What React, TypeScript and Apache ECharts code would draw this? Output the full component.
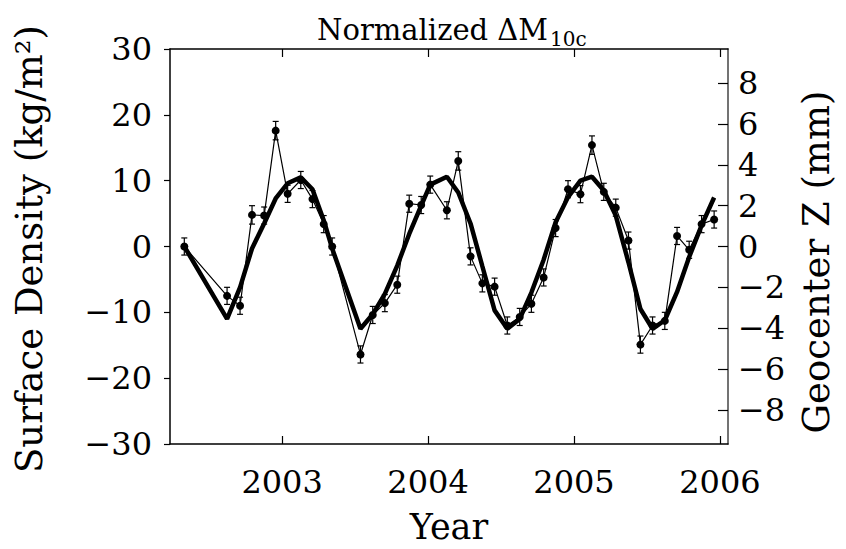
import React, { useEffect, useRef } from "react";
import * as echarts from "echarts";

// Decimal-year sample times (monthly solutions)
const times = [
  2002.33, 2002.623, 2002.712, 2002.794, 2002.877, 2002.956, 2003.038, 2003.128,
  2003.208, 2003.285, 2003.343, 2003.537, 2003.621, 2003.704, 2003.789, 2003.871,
  2003.953, 2004.015, 2004.129, 2004.207, 2004.291, 2004.372, 2004.456, 2004.543,
  2004.628, 2004.708, 2004.792, 2004.874, 2004.959, 2005.044, 2005.123, 2005.204,
  2005.286, 2005.373, 2005.455, 2005.538, 2005.622, 2005.706, 2005.789, 2005.874,
  2005.96,
];

// Normalized ΔM10c surface density (kg/m²), thin line with dots
const observed = [
  0, -7.5, -9.0, 4.8, 4.7, 17.6, 8.0, 10.1, 7.2, 3.4, 0.0, -16.4, -10.4, -8.6,
  -5.8, 6.5, 6.3, 9.4, 5.5, 13.0, -1.5, -5.6, -6.1, -12.0, -10.7, -8.7, -4.7, 2.8,
  8.7, 7.95, 15.4, 8.3, 5.9, 0.9, -14.9, -12.0, -11.3, 1.6, -0.5, 3.4, 4.1,
];

// One-sigma error bar half-lengths (kg/m²)
const errors = [
  1.3, 1.3, 1.3, 1.4, 1.3, 1.4, 1.3, 1.3, 1.3, 1.3, 1.3, 1.3, 1.3, 1.3, 1.3, 1.3,
  1.3, 1.3, 1.3, 1.4, 1.3, 1.3, 1.3, 1.3, 1.3, 1.3, 1.3, 1.3, 1.3, 1.3, 1.4, 1.3,
  1.3, 1.3, 1.3, 1.3, 1.3, 1.3, 1.3, 1.3, 1.3,
];

// Geocenter Z model expressed on the surface-density scale (thick line)
const model = [
  0, -11.0, -6.2, -0.3, 3.5, 7.3, 9.6, 10.5, 8.7, 4.0, -0.3, -12.5, -10.3, -7.2,
  -2.9, 1.9, 6.2, 9.4, 10.6, 8.2, 3.5, -3.0, -9.7, -12.5, -11.0, -7.0, -2.0, 3.7,
  7.5, 10.0, 10.6, 8.5, 4.7, -2.4, -9.5, -12.5, -11.2, -6.9, -1.6, 3.2, 7.45,
];

const yearTicks = [2003, 2004, 2005, 2006];
const geocenterTicks = [-8, -6, -4, -2, 0, 2, 4, 6, 8];

const FONT = "DejaVu Serif";
const fmtMinus = (v: number) => String(Math.round(v)).replace("-", "\u2212");

export default function App() {
  const ref = useRef<HTMLDivElement>(null);
  useEffect(() => {
    if (!ref.current) return;
    const chart = echarts.init(ref.current, undefined, { renderer: "svg" });
    const xMin = 2002.232;
    const xMax = 2006.055;
    const option: any = {
      animation: false,
      backgroundColor: "#fff",
      grid: { left: 170, right: 118, top: 49, bottom: 104 },
      graphic: [
        {
          type: "text",
          x: 548,
          y: 44,
          style: {
            text: "Normalized \u0394M",
            font: `29px '${FONT}'`,
            fill: "#000",
            textAlign: "right",
            textVerticalAlign: "bottom",
          },
        },
        {
          type: "text",
          x: 550,
          y: 49,
          style: {
            text: "10c",
            font: `20px '${FONT}'`,
            fill: "#000",
            textAlign: "left",
            textVerticalAlign: "bottom",
          },
        },
        {
          type: "text",
          x: 29,
          y: 249,
          rotation: Math.PI / 2,
          style: {
            text: "Surface Density (kg/m\u00b2)",
            font: `37px '${FONT}'`,
            fill: "#000",
            textAlign: "center",
            textVerticalAlign: "middle",
          },
        },
        {
          type: "text",
          x: 816,
          y: 262,
          rotation: Math.PI / 2,
          style: {
            text: "Geocenter Z (mm)",
            font: `37px '${FONT}'`,
            fill: "#000",
            textAlign: "center",
            textVerticalAlign: "middle",
          },
        },
      ],
      xAxis: [
        {
          type: "value",
          position: "bottom",
          min: xMin,
          max: xMax,
          axisLine: { show: true, onZero: false, lineStyle: { color: "#000", width: 1.5 } },
          axisTick: { show: true, inside: true, length: 8, customValues: yearTicks, lineStyle: { color: "#000", width: 1.2 } },
          axisLabel: {
            customValues: yearTicks,
            formatter: (v: number) => String(Math.round(v)),
            fontFamily: FONT,
            fontSize: 32,
            color: "#000",
            margin: 22,
          },
          splitLine: { show: false },
          name: "Year",
          nameLocation: "middle",
          nameGap: 65,
          nameTextStyle: { fontFamily: FONT, fontSize: 35, color: "#000" },
        },
        {
          type: "value",
          position: "top",
          min: xMin,
          max: xMax,
          axisLine: { show: true, onZero: false, lineStyle: { color: "#000", width: 1.5 } },
          axisTick: { show: true, inside: true, length: 8, customValues: yearTicks, lineStyle: { color: "#000", width: 1.2 } },
          axisLabel: { show: false },
          splitLine: { show: false },
        },
      ],
      yAxis: [
        {
          type: "value",
          position: "left",
          min: -30,
          max: 30,
          interval: 10,
          axisLine: { show: true, onZero: false, lineStyle: { color: "#000", width: 1.5 } },
          axisTick: { show: true, inside: false, length: 6, lineStyle: { color: "#000", width: 1.2 } },
          axisLabel: { formatter: fmtMinus, fontFamily: FONT, fontSize: 32, color: "#000", margin: 18 },
          splitLine: { show: false },
        },
        {
          type: "value",
          position: "right",
          min: -9.677,
          max: 9.677,
          axisLine: { show: true, onZero: false, lineStyle: { color: "#444", width: 1.5 } },
          axisTick: { show: true, inside: true, length: 10, customValues: geocenterTicks, lineStyle: { color: "#000", width: 1.2 } },
          axisLabel: {
            customValues: geocenterTicks,
            formatter: fmtMinus,
            fontFamily: FONT,
            fontSize: 32,
            color: "#000",
            margin: 10,
          },
          splitLine: { show: false },
        },
      ],
      series: [
        {
          name: "Model",
          type: "line",
          xAxisIndex: 0,
          yAxisIndex: 0,
          data: times.map((t, i) => [t, model[i]]),
          showSymbol: false,
          symbol: "none",
          lineStyle: { color: "#000", width: 4.5 },
          z: 2,
        },
        {
          name: "Errors",
          type: "custom",
          xAxisIndex: 0,
          yAxisIndex: 0,
          data: times.map((t, i) => [t, observed[i] - errors[i], observed[i] + errors[i]]),
          encode: { x: 0, y: [1, 2] },
          renderItem: (params: any, api: any) => {
            const x = api.value(0);
            const top = api.coord([x, api.value(2)]);
            const bot = api.coord([x, api.value(1)]);
            const w = 3;
            const st = { stroke: "#000", lineWidth: 1.2 };
            return {
              type: "group",
              children: [
                { type: "line", shape: { x1: top[0], y1: top[1], x2: bot[0], y2: bot[1] }, style: st },
                { type: "line", shape: { x1: top[0] - w, y1: top[1], x2: top[0] + w, y2: top[1] }, style: st },
                { type: "line", shape: { x1: bot[0] - w, y1: bot[1], x2: bot[0] + w, y2: bot[1] }, style: st },
              ],
            };
          },
          z: 3,
        },
        {
          name: "Observed",
          type: "line",
          xAxisIndex: 0,
          yAxisIndex: 0,
          data: times.map((t, i) => [t, observed[i]]),
          symbol: "circle",
          symbolSize: 8,
          showSymbol: true,
          itemStyle: { color: "#000" },
          lineStyle: { color: "#000", width: 1.2 },
          z: 4,
        },
      ],
    };
    chart.setOption(option);
    return () => chart.dispose();
  }, []);
  return (
    <div
      ref={ref}
      style={{ position: "absolute", left: 0, top: 0, width: 846, height: 549, background: "#fff" }}
    />
  );
}
